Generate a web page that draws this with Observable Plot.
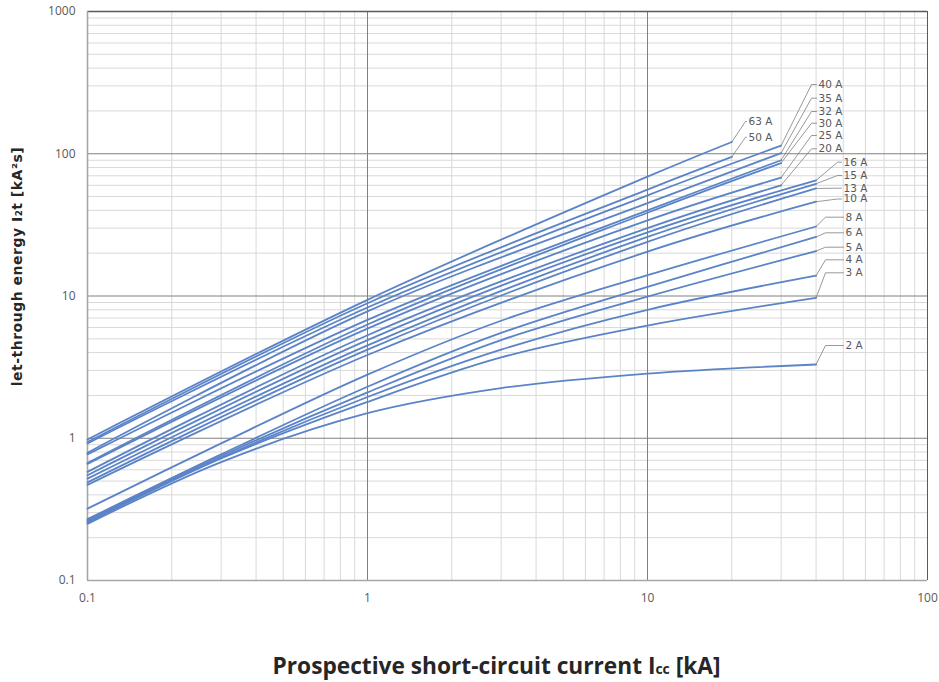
<!DOCTYPE html>
<html>
<head>
<meta charset="utf-8">
<script src="https://cdn.jsdelivr.net/npm/d3@7"></script>
<script src="https://cdn.jsdelivr.net/npm/@observablehq/plot@0.6"></script>
<style>
  body { margin: 0; background: #fff; font-family: "Open Sans", sans-serif; }
  #wrap { position: relative; width: 939px; height: 682px; }
  #xtitle { position: absolute; left: 0; top: 651px; width: 993px; text-align: center; line-height: 30px;
            font-weight: 700; font-size: 22.7px; color: #262626; white-space: nowrap; }
  #xtitle .sub { font-size: 14px; }
</style>
</head>
<body>
<div id="wrap">
  <div id="chart"></div>
  <div id="xtitle">Prospective short-circuit current I<span class="sub">cc</span> [kA]</div>
</div>
<script>
// ---------- data ----------
const xTickValues = [0.1, 1, 10, 100];
const xTickLabels = ["0.1", "1", "10", "100"];
const yTickValues = [0.1, 1, 10, 100, 1000];
const yTickLabels = ["0.1", "1", "10", "100", "1000"];

const ratings = [2, 3, 4, 5, 6, 8, 10, 13, 15, 16, 20, 25, 30, 32, 35, 40, 50, 63];
const ratingLabels = ["2 A", "3 A", "4 A", "5 A", "6 A", "8 A", "10 A", "13 A", "15 A", "16 A",
                      "20 A", "25 A", "30 A", "32 A", "35 A", "40 A", "50 A", "63 A"];

// prospective current sample points [kA]
const iccLow = [0.1, 0.3, 1, 3, 10, 40];
const icc40 = [0.1, 1, 10, 40];
const icc30 = [0.1, 1, 10, 30];
const icc20 = [0.1, 1, 10, 20];

// let-through energy [kA²s]
const i2t_2A  = [0.25, 0.68, 1.5, 2.25, 2.85, 3.3];
const i2t_3A  = [0.255, 0.72, 1.8, 3.7, 6.2, 9.7];
const i2t_4A  = [0.26, 0.73, 1.95, 4.2, 8.0, 13.9];
const i2t_5A  = [0.265, 0.75, 2.1, 4.9, 9.9, 20.7];
const i2t_6A  = [0.27, 0.77, 2.3, 5.5, 11.6, 26];
const i2t_8A  = [0.32, 0.92, 2.8, 6.7, 14, 30.8];
const i2t_10A = [0.47, 3.85, 20.5, 46];
const i2t_13A = [0.49, 4.2, 24, 57];
const i2t_15A = [0.52, 4.5, 26, 61.5];
const i2t_16A = [0.55, 4.9, 28, 65];
const i2t_20A = [0.58, 5.3, 30, 60];
const i2t_25A = [0.66, 5.9, 34, 68];
const i2t_30A = [0.67, 6.3, 38.5, 86];
const i2t_32A = [0.77, 6.8, 40, 90];
const i2t_35A = [0.79, 7.8, 45, 101];
const i2t_40A = [0.92, 8.3, 51, 114];
const i2t_50A = [0.94, 8.9, 56, 95];
const i2t_63A = [0.98, 9.4, 69, 121];

const seriesIcc = [iccLow, iccLow, iccLow, iccLow, iccLow, iccLow, icc40, icc40, icc40, icc40,
                   icc30, icc30, icc30, icc30, icc30, icc30, icc20, icc20];
const seriesI2t = [i2t_2A, i2t_3A, i2t_4A, i2t_5A, i2t_6A, i2t_8A, i2t_10A, i2t_13A, i2t_15A, i2t_16A,
                   i2t_20A, i2t_25A, i2t_30A, i2t_32A, i2t_35A, i2t_40A, i2t_50A, i2t_63A];

// ---------- layout ----------
const W = 939, H = 620;
const mL = 87, mR = 12, mT = 11, mB = 40;
const xs = d3.scaleLog([0.1, 100], [mL, W - mR]);
const ys = d3.scaleLog([0.1, 1000], [H - mB, mT]);

// label placement in pixels: [text x, text center y, elbow x]
const labelPos = {
  2: [845, 345, 825], 3: [845, 272.3, 825], 4: [845, 259.3, 825], 5: [845, 246.7, 825],
  6: [845, 232.3, 825], 8: [845, 216.7, 825],
  10: [843, 198.5, 837], 13: [843, 187.7, 837], 15: [843, 175, 837], 16: [843, 161.7, 837],
  20: [818, 148.3, 811], 25: [818, 135, 811], 30: [818, 122.7, 811], 32: [818, 111, 811],
  35: [818, 97.7, 811], 40: [818, 84, 811],
  50: [748, 136.7, 745], 63: [748, 121, 745]
};

const curves = [];
ratings.forEach((r, k) => {
  seriesIcc[k].forEach((xv, j) => curves.push({rating: r, icc: xv, i2t: seriesI2t[k][j]}));
});

const leaders = [];
const labels = [];
ratings.forEach((r, k) => {
  const xe = seriesIcc[k][seriesIcc[k].length - 1];
  const ye = seriesI2t[k][seriesI2t[k].length - 1];
  const [tx, ty, ex] = labelPos[r];
  leaders.push({rating: r, x: xe, y: ye});
  leaders.push({rating: r, x: xs.invert(ex), y: ys.invert(ty)});
  leaders.push({rating: r, x: xs.invert(tx - 2), y: ys.invert(ty)});
  labels.push({text: ratingLabels[k], x: xs.invert(tx), y: ys.invert(ty)});
});

// minor grid values
const decadesX = [0.1, 1, 10];
const decadesY = [0.1, 1, 10, 100];
const minorX = decadesX.flatMap(d => d3.range(2, 10).map(m => d * m));
const minorY = decadesY.flatMap(d => d3.range(2, 10).map(m => d * m));

const xLabelMap = new Map(xTickValues.map((v, i) => [v, xTickLabels[i]]));
const yLabelMap = new Map(yTickValues.map((v, i) => [v, yTickLabels[i]]));

const chart = Plot.plot({
  width: W, height: H,
  marginLeft: mL, marginRight: mR, marginTop: mT, marginBottom: mB,
  style: {fontFamily: "'Open Sans', sans-serif", fontSize: "12px", color: "#595959", background: "#fff", overflow: "visible"},
  x: {type: "log", domain: [0.1, 100], ticks: xTickValues, tickFormat: d => xLabelMap.get(d),
      tickSize: 0, tickPadding: 13, label: null},
  y: {type: "log", domain: [0.1, 1000], ticks: yTickValues, tickFormat: d => yLabelMap.get(d),
      tickSize: 0, tickPadding: 12, label: null},
  marks: [
    Plot.ruleY(minorY, {stroke: "#d9d9d9", strokeWidth: 1}),
    Plot.ruleX(minorX, {stroke: "#d9d9d9", strokeWidth: 1}),
    Plot.ruleY([1, 10, 100], {stroke: "#808080", strokeWidth: 1}),
    Plot.ruleX([1, 10], {stroke: "#808080", strokeWidth: 1}),
    Plot.ruleY([1000], {stroke: "#595959", strokeWidth: 1.3}),
    Plot.ruleX([100], {stroke: "#595959", strokeWidth: 1}),
    Plot.ruleX([0.1], {stroke: "#a6a6a6", strokeWidth: 1.6}),
    Plot.ruleY([0.1], {stroke: "#a6a6a6", strokeWidth: 1.6}),
    Plot.line(curves, {x: "icc", y: "i2t", z: "rating", stroke: "#5b84c8", strokeWidth: 1.8, curve: "catmull-rom"}),
    Plot.line(leaders, {x: "x", y: "y", z: "rating", stroke: "#7f7f7f", strokeWidth: 0.8}),
    Plot.text(labels, {x: "x", y: "y", text: "text", textAnchor: "start", lineAnchor: "middle",
                       fill: "#595959", fontSize: 10.5, fontFamily: "'DejaVu Sans', sans-serif"}),
    Plot.text(["let-through energy I\u2082t [kA\u00b2s]"], {
      frameAnchor: "left", y: [ys.invert(266)], dx: -70, rotate: -90,
      fontWeight: "bold", fontSize: 14, fontFamily: "'DejaVu Sans', sans-serif",
      fill: "#262626", textAnchor: "middle", lineAnchor: "middle"
    })
  ]
});
// slight letter spacing on the y title to match the reference's wide face
chart.querySelectorAll("text").forEach(t => {
  if (t.textContent.startsWith("let-through")) t.setAttribute("letter-spacing", "0.5");
});
document.getElementById("chart").appendChild(chart);
</script>
</body>
</html>
